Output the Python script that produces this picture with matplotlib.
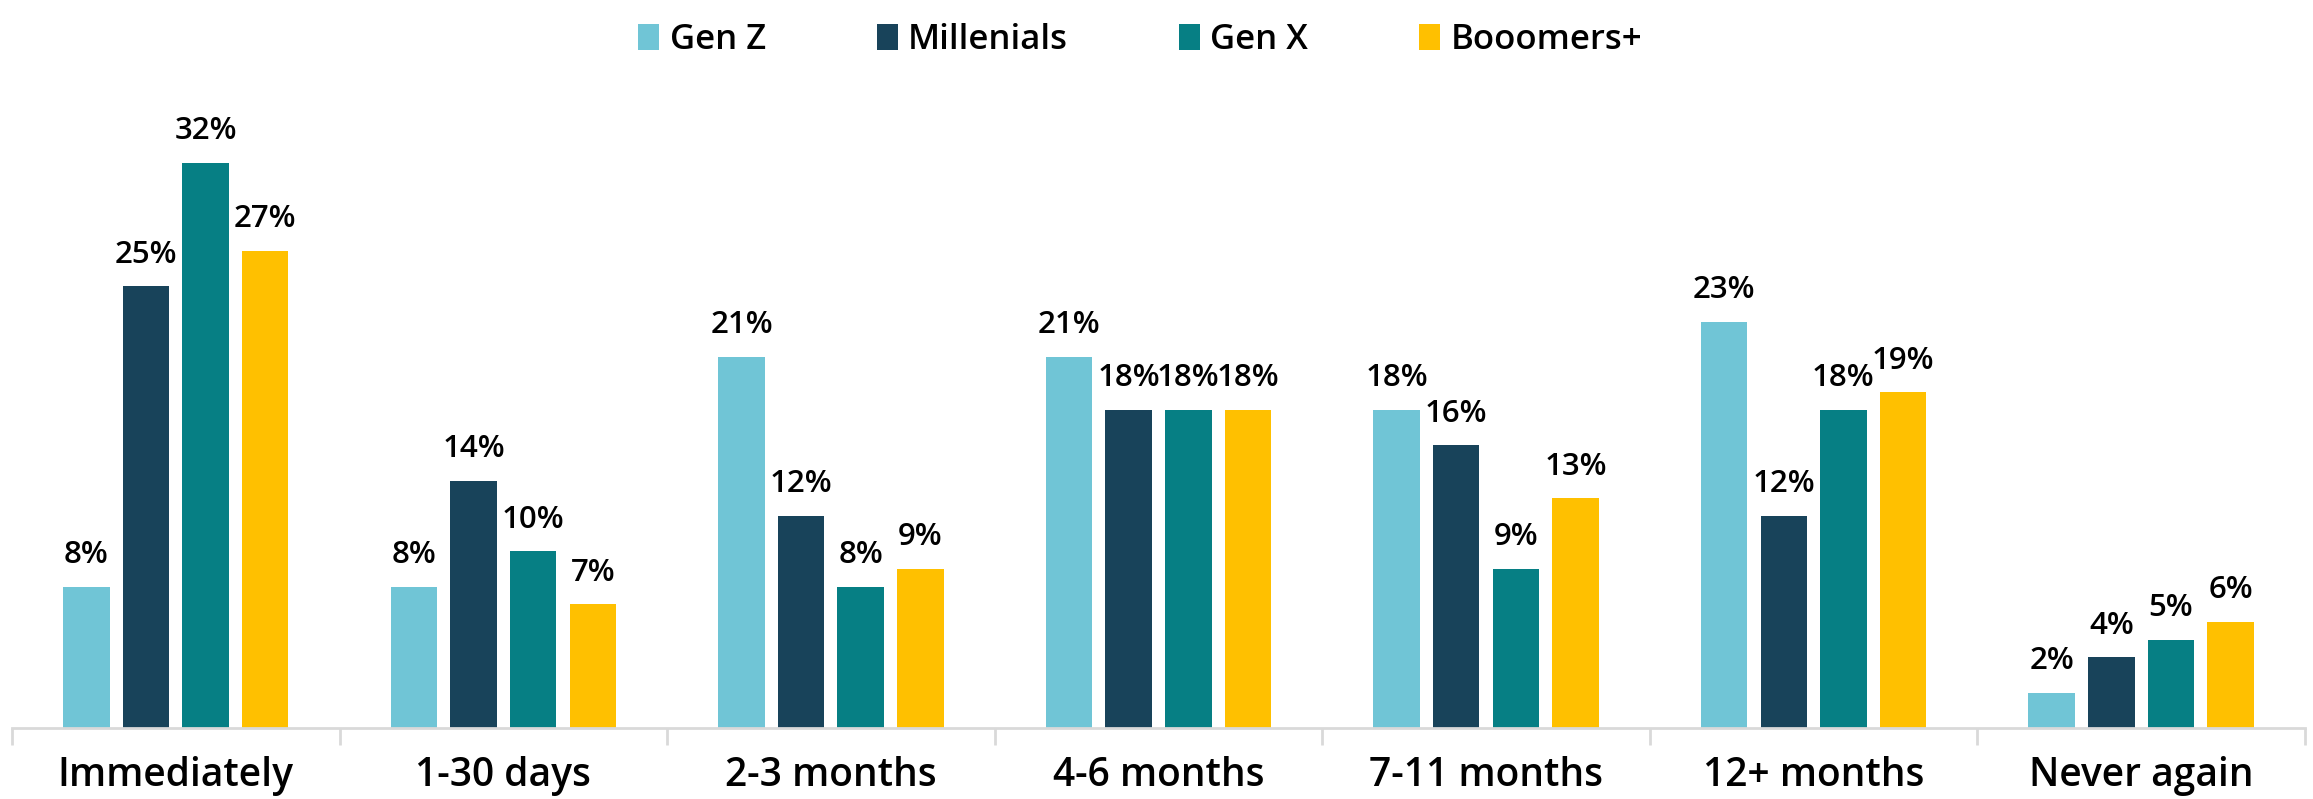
import numpy as np
import matplotlib.pyplot as plt
from matplotlib.patches import Patch

categories = ["Immediately", "1-30 days", "2-3 months", "4-6 months",
              "7-11 months", "12+ months", "Never again"]
groups = ["Gen Z", "Millenials", "Gen X", "Booomers+"]
gen_z = [8, 8, 21, 21, 18, 23, 2]
millenials = [25, 14, 12, 18, 16, 12, 4]
gen_x = [32, 10, 8, 18, 9, 18, 5]
boomers = [27, 7, 9, 18, 13, 19, 6]
colors = ["#70C5D6", "#18435A", "#067F84", "#FFC000"]

plt.rcParams['font.family'] = ['Open Sans', 'DejaVu Sans']


def plot_chart():
    fig = plt.figure(figsize=(23.13, 7.99), dpi=100)
    ax = fig.add_axes([0.0052, 0.089, 0.9913, 0.80])

    x = np.arange(len(categories))
    width = 0.142
    step = 0.182
    series = [gen_z, millenials, gen_x, boomers]

    for i, (vals, col) in enumerate(zip(series, colors)):
        pos = x + (i - 1.5) * step
        bars = ax.bar(pos, vals, width=width, color=col, zorder=2)
        for b, v in zip(bars, vals):
            ax.annotate(f"{v}%", (b.get_x() + b.get_width() / 2, v),
                        xytext=(0, 12), textcoords='offset points',
                        ha='center', va='bottom', fontsize=22.5,
                        fontweight='semibold')

    ax.set_xlim(-0.5, len(categories) - 0.5)
    ax.set_ylim(0, 36.2)
    ax.set_yticks([])
    ax.set_xticks(x)
    ax.set_xticklabels(categories, fontsize=28, fontweight='semibold')
    ax.set_xticks(np.arange(-0.5, len(categories)), minor=True)
    ax.tick_params(axis='x', which='major', length=0, pad=20)
    ax.tick_params(axis='x', which='minor', length=12, width=2,
                   color='#D9D9D9', direction='out')
    for s in ['top', 'right', 'left']:
        ax.spines[s].set_visible(False)
    ax.spines['bottom'].set_color('#D9D9D9')
    ax.spines['bottom'].set_linewidth(2)

    handles = [Patch(facecolor=c, label=g) for c, g in zip(colors, groups)]
    fig.legend(handles=handles, loc='upper center', bbox_to_anchor=(0.493, 1.01),
               ncol=4, frameon=False, handlelength=0.6,
               handleheight=0.8, handletextpad=0.3, columnspacing=3.2,
               prop={'size': 25, 'weight': 'semibold'})

    fig.savefig('out.png', dpi=100)


if __name__ == "__main__":
    plot_chart()
